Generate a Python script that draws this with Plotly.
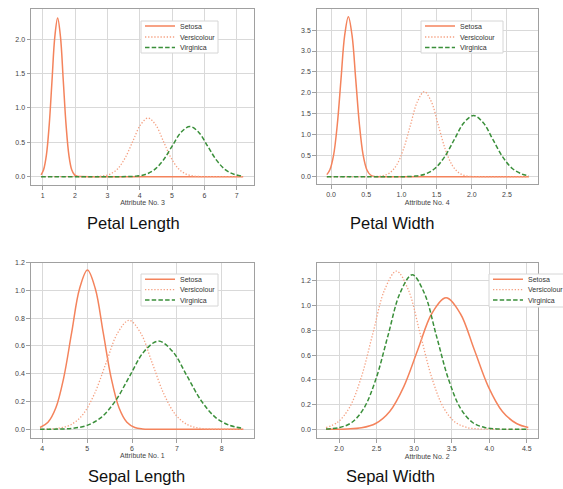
import plotly.graph_objects as go

# ---------------- data ----------------
# Petal Length (Attribute No. 3)
pl_setosa_x = [0.95, 1.027, 1.114, 1.201, 1.288, 1.375, 1.462, 1.549, 1.636, 1.723, 1.810, 1.897, 1.984, 2.071, 2.158, 3.0, 7.2]
pl_setosa_y = [0.026, 0.101, 0.313, 0.750, 1.401, 2.039, 2.31, 2.039, 1.401, 0.750, 0.313, 0.101, 0.026, 0.005, 0.001, 0.0, 0.0]
pl_versi_x = [0.95, 2.38, 2.615, 2.85, 3.085, 3.32, 3.555, 3.79, 4.025, 4.26, 4.495, 4.73, 4.965, 5.2, 5.435, 5.67, 5.905, 6.14, 7.2]
pl_versi_y = [0.0, 0.0003, 0.0019, 0.0095, 0.0375, 0.1157, 0.2776, 0.5186, 0.7545, 0.855, 0.7545, 0.5186, 0.2776, 0.1157, 0.0375, 0.0095, 0.0019, 0.0003, 0.0]
pl_virg_x = [0.95, 3.344, 3.62, 3.896, 4.172, 4.448, 4.724, 5.0, 5.276, 5.552, 5.828, 6.104, 6.38, 6.656, 6.932, 7.2]
pl_virg_y = [0.0, 0.0002, 0.0016, 0.0081, 0.0320, 0.0988, 0.2370, 0.4427, 0.6442, 0.73, 0.6442, 0.4427, 0.2370, 0.0988, 0.0320, 0.008]

# Petal Width (Attribute No. 4)
pw_setosa_x = [-0.06, -0.0165, 0.036, 0.0885, 0.141, 0.1935, 0.246, 0.2985, 0.351, 0.4035, 0.456, 0.5085, 0.561, 0.6135, 0.666, 1.2, 2.81]
pw_setosa_y = [0.05, 0.168, 0.517, 1.240, 2.317, 3.371, 3.82, 3.371, 2.317, 1.240, 0.517, 0.168, 0.042, 0.008, 0.001, 0.0, 0.0]
pw_versi_x = [-0.06, 0.534, 0.633, 0.732, 0.831, 0.93, 1.029, 1.128, 1.227, 1.326, 1.425, 1.524, 1.623, 1.722, 1.821, 1.92, 2.019, 2.118, 2.81]
pw_versi_y = [0.0, 0.0006, 0.0045, 0.0225, 0.0891, 0.2747, 0.659, 1.231, 1.791, 2.03, 1.791, 1.231, 0.659, 0.2747, 0.0891, 0.0225, 0.0045, 0.0006, 0.0]
pw_virg_x = [-0.06, 0.926, 1.0635, 1.201, 1.3385, 1.476, 1.6135, 1.751, 1.8885, 2.026, 2.1635, 2.301, 2.4385, 2.576, 2.7135, 2.81]
pw_virg_y = [0.0, 0.0004, 0.0032, 0.0162, 0.0641, 0.1975, 0.4741, 0.8855, 1.2885, 1.46, 1.2885, 0.8855, 0.4741, 0.1975, 0.0641, 0.025]

# Sepal Length (Attribute No. 1)
sl_setosa_x = [3.95, 4.126, 4.302, 4.478, 4.654, 4.83, 5.006, 5.182, 5.358, 5.534, 5.71, 5.886, 6.062, 6.238, 6.414, 8.48]
sl_setosa_y = [0.0127, 0.0504, 0.1552, 0.3724, 0.6957, 1.0122, 1.147, 1.0122, 0.6957, 0.3724, 0.1552, 0.0504, 0.0127, 0.0025, 0.0003, 0.0]
sl_versi_x = [3.95, 4.13, 4.388, 4.646, 4.904, 5.162, 5.42, 5.678, 5.936, 6.194, 6.452, 6.71, 6.968, 7.226, 7.484, 7.742, 8.0, 8.48]
sl_versi_y = [0.0005, 0.0017, 0.0087, 0.0345, 0.1062, 0.2549, 0.4761, 0.6928, 0.785, 0.6928, 0.4761, 0.2549, 0.1062, 0.0345, 0.0087, 0.0017, 0.0002, 0.0]
sl_virg_x = [3.95, 4.044, 4.362, 4.68, 4.998, 5.316, 5.634, 5.952, 6.27, 6.588, 6.906, 7.224, 7.542, 7.86, 8.178, 8.48]
sl_virg_y = [0.0001, 0.0002, 0.0014, 0.0070, 0.0279, 0.0859, 0.2062, 0.3851, 0.5604, 0.635, 0.5604, 0.3851, 0.2062, 0.0859, 0.0279, 0.0076]

# Sepal Width (Attribute No. 2)
sw_setosa_x = [1.827, 1.925, 2.1125, 2.30, 2.4875, 2.675, 2.8625, 3.05, 3.2375, 3.425, 3.6125, 3.80, 3.9875, 4.175, 4.3625, 4.52]
sw_setosa_y = [0.0001, 0.0003, 0.0023, 0.0118, 0.0467, 0.144, 0.3455, 0.6453, 0.939, 1.064, 0.939, 0.6453, 0.3455, 0.144, 0.0467, 0.015]
sw_versi_x = [1.827, 1.98, 2.137, 2.294, 2.451, 2.608, 2.765, 2.922, 3.079, 3.236, 3.393, 3.55, 3.707, 3.864, 4.021, 4.52]
sw_versi_y = [0.014, 0.0562, 0.1732, 0.4156, 0.7763, 1.1296, 1.28, 1.1296, 0.7763, 0.4156, 0.1732, 0.0562, 0.0142, 0.0028, 0.0004, 0.0]
sw_virg_x = [1.827, 2.008, 2.169, 2.33, 2.491, 2.652, 2.813, 2.974, 3.135, 3.296, 3.457, 3.618, 3.779, 3.94, 4.101, 4.262, 4.52]
sw_virg_y = [0.0022, 0.0139, 0.0549, 0.1691, 0.4059, 0.7581, 1.1031, 1.25, 1.1031, 0.7581, 0.4059, 0.1691, 0.0549, 0.0139, 0.0028, 0.0004, 0.0]

species = ["Setosa", "Versicolour", "Virginica"]
panel_titles = ["Petal Length", "Petal Width", "Sepal Length", "Sepal Width"]
axis_titles = ["Attribute No. 3", "Attribute No. 4", "Attribute No. 1", "Attribute No. 2"]

x_ticks_pl = [1, 2, 3, 4, 5, 6, 7]
y_ticks_pl = [0.0, 0.5, 1.0, 1.5, 2.0]
x_ticks_pw = [0.0, 0.5, 1.0, 1.5, 2.0, 2.5]
y_ticks_pw = [0.0, 0.5, 1.0, 1.5, 2.0, 2.5, 3.0, 3.5]
x_ticks_sl = [4, 5, 6, 7, 8]
y_ticks_sl = [0.0, 0.2, 0.4, 0.6, 0.8, 1.0, 1.2]
x_ticks_sw = [2.0, 2.5, 3.0, 3.5, 4.0, 4.5]
y_ticks_sw = [0.0, 0.2, 0.4, 0.6, 0.8, 1.0, 1.2]

# ---------------- styling ----------------
W, H = 563, 489
colors = ["#F4835C", "#F5A081", "#3A8F3A"]
dashes = ["solid", "1.3px,1.8px", "4.5px,2.2px"]
widths = [1.5, 1.3, 1.5]

panels = [
    dict(series=[(pl_setosa_x, pl_setosa_y), (pl_versi_x, pl_versi_y), (pl_virg_x, pl_virg_y)],
         xr=[0.638, 7.535], yr=[-0.121, 2.441], xt=x_ticks_pl, yt=y_ticks_pl, xfmt="d",
         xd=[31, 254], yd=[9, 185], leg_x=140, leg_y=[26, 37, 47.5], box=[141, 218, 21, 53]),
    dict(series=[(pw_setosa_x, pw_setosa_y), (pw_versi_x, pw_versi_y), (pw_virg_x, pw_virg_y)],
         xr=[-0.204, 2.937], yr=[-0.18, 3.995], xt=x_ticks_pw, yt=y_ticks_pw, xfmt=".1f",
         xd=[316.7, 537.7], yd=[9.3, 184.3], leg_x=420, leg_y=[26, 37, 47.5], box=[421, 503, 21, 53]),
    dict(series=[(sl_setosa_x, sl_setosa_y), (sl_versi_x, sl_versi_y), (sl_virg_x, sl_virg_y)],
         xr=[3.741, 8.72], yr=[-0.063, 1.2], xt=x_ticks_sl, yt=y_ticks_sl, xfmt="d",
         xd=[30.7, 254], yd=[262.7, 438], leg_x=140, leg_y=[279.3, 289.6, 300], box=[141, 218, 274, 306]),
    dict(series=[(sw_setosa_x, sw_setosa_y), (sw_versi_x, sw_versi_y), (sw_virg_x, sw_virg_y)],
         xr=[1.703, 4.645], yr=[-0.073, 1.348], xt=x_ticks_sw, yt=y_ticks_sw, xfmt=".1f",
         xd=[316.7, 537.7], yd=[262.7, 438.3], leg_x=488, leg_y=[279.3, 289.6, 300], box=[489, 566, 274, 307]),
]

fig = go.Figure()
layout = dict(
    width=W, height=H,
    margin=dict(l=0, r=0, t=0, b=0, autoexpand=False),
    paper_bgcolor="white", plot_bgcolor="white",
    font=dict(family="Liberation Sans, Arial, sans-serif", color="#333333"),
    showlegend=True,
)
shapes = []
annotations = []
leg_n = 0
for i, p in enumerate(panels):
    xa = "xaxis" if i == 0 else f"xaxis{i+1}"
    ya = "yaxis" if i == 0 else f"yaxis{i+1}"
    xref = "x" if i == 0 else f"x{i+1}"
    yref = "y" if i == 0 else f"y{i+1}"
    for j, (sx, sy) in enumerate(p["series"]):
        leg_n += 1
        lname = "legend" if leg_n == 1 else f"legend{leg_n}"
        fig.add_trace(go.Scatter(
            x=sx, y=sy, mode="lines", name=species[j],
            line=dict(color=colors[j], width=widths[j], dash=dashes[j], shape="spline", smoothing=1.0),
            xaxis=xref, yaxis=yref, legend=lname, hoverinfo="skip"))
        layout[lname] = dict(
            x=p["leg_x"] / W, y=1 - p["leg_y"][j] / H, xanchor="left", yanchor="middle",
            bgcolor="rgba(0,0,0,0)", borderwidth=0,
            font=dict(size=7, color="#333333"),
        )
    common = dict(showgrid=True, gridcolor="#D9D9D9", gridwidth=1, zeroline=False,
                  showline=True, linecolor="#A0A0A0", linewidth=1, mirror=True,
                  ticks="outside", ticklen=3.5, tickwidth=1, tickcolor="#A0A0A0",
                  tickfont=dict(size=7, color="#444444"))
    layout[xa] = dict(common, domain=[p["xd"][0] / W, p["xd"][1] / W], range=p["xr"],
                      tickvals=p["xt"], tickformat=p["xfmt"], anchor=yref,
                      title=dict(text=axis_titles[i], font=dict(size=7, color="#444444"), standoff=2))
    layout[ya] = dict(common, domain=[1 - p["yd"][1] / H, 1 - p["yd"][0] / H], range=p["yr"],
                      tickvals=p["yt"], tickformat=".1f", anchor=xref)
    b = p["box"]
    shapes.append(dict(type="rect", xref="paper", yref="paper",
                       x0=b[0] / W, x1=b[1] / W, y0=1 - b[3] / H, y1=1 - b[2] / H,
                       fillcolor="white", line=dict(color="#D6D6D6", width=1), layer="above"))

title_pos = [(133, 223), (392, 223), (136, 475.5), (390, 475.5)]
for t, (tx, ty) in zip(panel_titles, title_pos):
    annotations.append(dict(text=t, x=tx / W, y=1 - ty / H, xref="paper", yref="paper",
                            xanchor="center", yanchor="middle", showarrow=False,
                            font=dict(size=16.5, family="Liberation Sans, Arial, sans-serif",
                                      color="#111111")))
layout["shapes"] = shapes
layout["annotations"] = annotations
fig.update_layout(**layout)
fig.write_html("out.html")
